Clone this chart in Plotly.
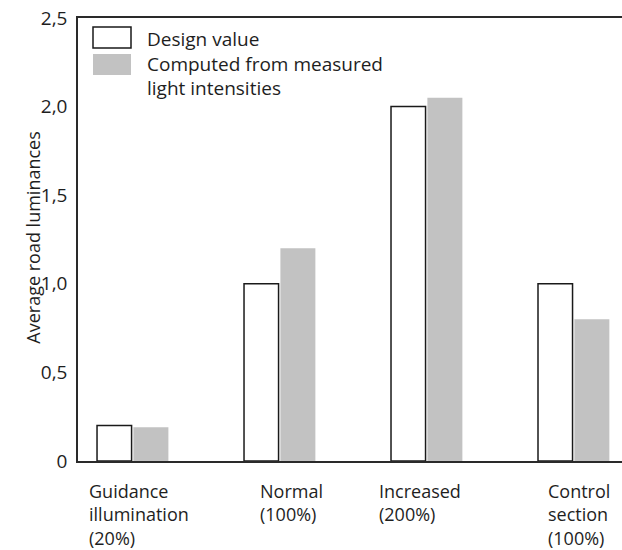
import plotly.graph_objects as go

# ---- data ----
categories = ["Guidance<br>illumination<br>(20%)", "Normal<br>(100%)", "Increased<br>(200%)", "Control<br>section<br>(100%)"]
design_value = [0.2, 1.0, 2.0, 1.0]
computed_value = [0.19, 1.2, 2.05, 0.8]
y_tick_values = [0, 0.5, 1.0, 1.5, 2.0, 2.5]
y_tick_labels = ["0", "0,5", "1,0", "1,5", "2,0", "2,5"]
series_names = ["Design value", "Computed from measured<br>light intensities"]
y_title = "Average road luminances"

x_pos = list(range(len(categories)))
label_shift = [6, 12, -7, 6]

FONT = "Open Sans"
TXT = "#1e1e1e"
GRAY = "#c2c2c2"

fig = go.Figure()
fig.add_trace(go.Bar(
    x=x_pos, y=design_value, name=series_names[0],
    width=0.235, offset=-0.2415,
    marker=dict(color="white", line=dict(color="#1a1a1a", width=1.5)),
    showlegend=False,
))
fig.add_trace(go.Bar(
    x=x_pos, y=computed_value, name=series_names[1],
    width=0.238, offset=0.006,
    marker=dict(color=GRAY, line=dict(width=0)),
    showlegend=False,
))

annotations = []
for i, lab in enumerate(categories):
    annotations.append(dict(
        x=x_pos[i], xref="x", y=-0.037, yref="paper",
        text=lab, showarrow=False, xanchor="center", yanchor="top",
        align="left", xshift=label_shift[i],
        font=dict(family=FONT, size=18, color=TXT),
    ))

# y-axis title
annotations.append(dict(
    x=-0.082, xref="paper", y=0.505, yref="paper", text=y_title,
    textangle=-90, showarrow=False, xanchor="center", yanchor="middle",
    font=dict(family=FONT, size=18, color=TXT),
))

# custom legend (boxes drawn as shapes, labels as one text block)
shapes = [
    dict(type="rect", xref="paper", yref="paper",
         x0=(93 - 78) / 544, x1=(131 - 78) / 544,
         y0=(461 - 48) / 443, y1=(461 - 27) / 443,
         fillcolor="white", line=dict(color="#1a1a1a", width=1.5)),
    dict(type="rect", xref="paper", yref="paper",
         x0=(93 - 78) / 544, x1=(131 - 78) / 544,
         y0=(461 - 75) / 443, y1=(461 - 54) / 443,
         fillcolor=GRAY, line=dict(width=0)),
]
annotations.append(dict(
    x=(145 - 78) / 544, xref="paper", y=(461 - 63.5) / 443, yref="paper",
    text="<br>".join(series_names), showarrow=False,
    xanchor="left", yanchor="middle", align="left",
    font=dict(family=FONT, size=19, color=TXT),
))

fig.update_layout(
    width=622, height=550,
    margin=dict(l=78, r=0, t=18, b=89),
    paper_bgcolor="white", plot_bgcolor="white",
    barmode="overlay",
    annotations=annotations, shapes=shapes,
    font=dict(family=FONT, size=19, color=TXT),
)
fig.update_xaxes(
    range=[-0.371, 3.33], showgrid=False, zeroline=False,
    showticklabels=False, ticks="",
    showline=True, mirror=True, linecolor="#2a2a2a", linewidth=1.5,
)
fig.update_yaxes(
    range=[0, 2.5], tickvals=y_tick_values, ticktext=y_tick_labels,
    showgrid=False, zeroline=False, ticks="",
    showline=True, linecolor="#2a2a2a", linewidth=1.5,
    ticklabelstandoff=5,
    tickfont=dict(family=FONT, size=19, color=TXT),
)

fig.write_html(
    "out.html",
    config={"displayModeBar": False},
    post_script="document.body.style.margin='0';document.body.style.overflow='hidden';",
)
